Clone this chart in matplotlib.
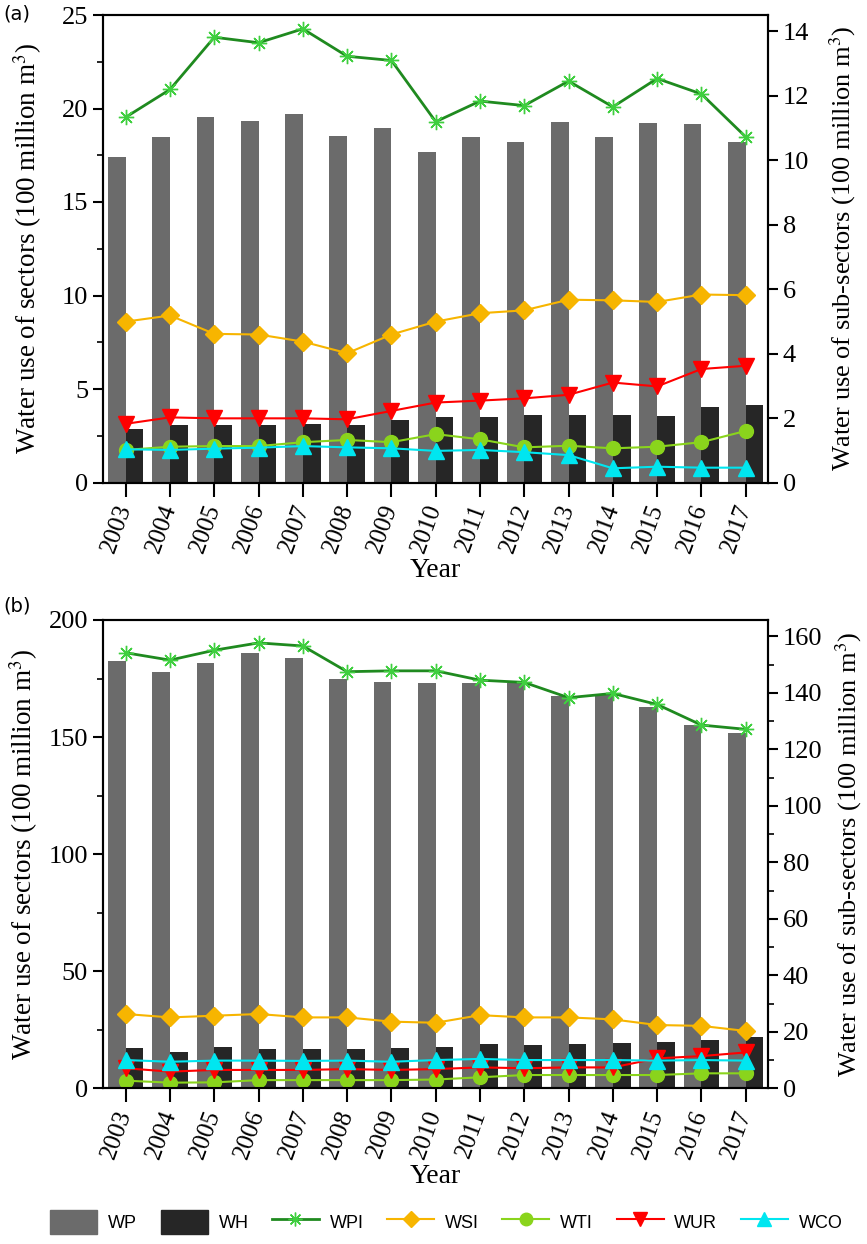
"""Sector and sub-sector water use, 2003-2017, panels (a) and (b)."""

import numpy as np
import matplotlib
matplotlib.use("Agg")
import matplotlib.pyplot as plt
from matplotlib.patches import Patch
from matplotlib.lines import Line2D
from matplotlib.ticker import MultipleLocator

years = [str(y) for y in range(2003, 2018)]

# panel (a) - sectors (left axis)
wp_a = [17.4, 18.5, 19.55, 19.35, 19.7, 18.55, 18.95, 17.7, 18.45, 18.2, 19.3, 18.45, 19.25, 19.15, 18.2]
wh_a = [2.87, 3.1, 3.1, 3.1, 3.15, 3.1, 3.33, 3.49, 3.49, 3.6, 3.6, 3.6, 3.54, 4.02, 4.17]
# panel (a) - sub-sectors (right axis)
wpi_a = [11.33, 12.19, 13.81, 13.64, 14.07, 13.22, 13.09, 11.19, 11.83, 11.69, 12.45, 11.65, 12.53, 12.05, 10.72]
wsi_a = [4.99, 5.18, 4.61, 4.59, 4.37, 4.01, 4.59, 4.99, 5.25, 5.34, 5.67, 5.65, 5.6, 5.83, 5.81]
wti_a = [1.01, 1.11, 1.13, 1.13, 1.25, 1.32, 1.25, 1.5, 1.34, 1.09, 1.14, 1.06, 1.11, 1.25, 1.6]
wur_a = [1.82, 2.02, 1.99, 1.99, 1.99, 1.96, 2.22, 2.48, 2.54, 2.61, 2.72, 3.1, 2.98, 3.52, 3.62]
wco_a = [1.03, 1.01, 1.05, 1.08, 1.13, 1.09, 1.06, 0.98, 1.01, 0.94, 0.85, 0.44, 0.49, 0.46, 0.46]

# panel (b)
wp_b = [182.3, 178.0, 181.8, 185.7, 183.7, 175.0, 173.7, 173.3, 173.3, 172.9, 167.4, 168.1, 162.7, 155.2, 151.6]
wh_b = [17.0, 15.6, 17.5, 16.8, 16.8, 16.8, 17.0, 17.6, 18.8, 18.5, 18.8, 19.2, 19.6, 20.6, 21.9]
wpi_b = [154.2, 151.6, 155.1, 157.7, 156.6, 147.5, 147.8, 147.8, 144.5, 143.7, 138.3, 139.8, 135.9, 128.6, 127.1]
wsi_b = [26.3, 25.1, 25.7, 26.3, 25.1, 25.1, 23.6, 23.2, 25.9, 25.1, 25.1, 24.4, 22.4, 22.1, 20.3]
wti_b = [2.7, 2.0, 2.1, 2.9, 2.9, 2.9, 2.9, 3.1, 3.9, 4.7, 4.7, 4.7, 4.7, 5.3, 5.3]
wur_b = [7.1, 5.9, 6.5, 6.5, 6.5, 6.8, 6.5, 6.8, 7.4, 7.1, 7.4, 7.4, 10.6, 11.4, 12.7]
wco_b = [10.0, 9.4, 9.8, 9.8, 9.7, 9.8, 9.4, 10.0, 10.4, 10.0, 10.0, 10.0, 9.8, 10.0, 9.8]

C_WP, C_WH = "#6b6b6b", "#262626"
STYLES = {
    "WPI": dict(color="#1f8a1f", marker=(8, 2, 0), ms=11, mec="#3fcf3f", mew=1.0, lw=2.0),
    "WSI": dict(color="#f7b500", marker="D", ms=9, mec="#f7b500", lw=1.5),
    "WTI": dict(color="#8ad41c", marker="o", ms=10, mec="#8ad41c", lw=1.5),
    "WUR": dict(color="#ff0000", marker="v", ms=11, mec="#ff0000", lw=1.5),
    "WCO": dict(color="#00e6f0", marker="^", ms=11, mec="#00e6f0", lw=1.5),
}

plt.rcParams["font.family"] = ["Liberation Serif", "DejaVu Serif"]
plt.rcParams["mathtext.fontset"] = "stix"

W, H = 867, 1244
fig = plt.figure(figsize=(W / 100, H / 100), dpi=100)


def draw_panel(rect, wp, wh, subs, ylim_l, ystep_l, ymin_l, ylim_r, ystep_r, ymin_r,
               lpad, rpad):
    x = np.arange(len(years))
    ax = fig.add_axes(rect)
    ax.bar(x - 0.2, wp, width=0.4, color=C_WP, zorder=2)
    ax.bar(x + 0.2, wh, width=0.4, color=C_WH, zorder=2)
    ax.set_xlim(-0.52, 14.51)
    ax.set_ylim(0, ylim_l)
    ax.yaxis.set_major_locator(MultipleLocator(ystep_l))
    ax.yaxis.set_minor_locator(MultipleLocator(ymin_l))
    ax.set_xticks(x)
    ax.set_xticklabels(years, rotation=70, ha="right", va="center",
                       rotation_mode="anchor", fontsize=18)
    ax.tick_params(axis="x", direction="out", length=10, width=1.5, pad=6)
    ax.tick_params(axis="y", which="major", direction="out", length=7, width=1.5,
                   labelsize=19)
    ax.tick_params(axis="y", which="minor", direction="out", length=4, width=1.2)
    ax.set_xlabel("Year", fontsize=20, labelpad=2)
    ax.set_ylabel("Water use of sectors (100 million m$^3$)", fontsize=19.5,
                  labelpad=lpad)

    ax2 = ax.twinx()
    for name, vals in subs.items():
        ax2.plot(x, vals, **STYLES[name])
    ax2.set_ylim(0, ylim_r)
    ax2.yaxis.set_major_locator(MultipleLocator(ystep_r))
    if ymin_r:
        ax2.yaxis.set_minor_locator(MultipleLocator(ymin_r))
    ax2.tick_params(axis="y", which="major", direction="out", length=7, width=1.5,
                    labelsize=19)
    ax2.tick_params(axis="y", which="minor", direction="out", length=4, width=1.2)
    ax2.set_ylabel("Water use of sub-sectors (100 million m$^3$)", fontsize=19,
                   labelpad=rpad)
    for a in (ax, ax2):
        for s in a.spines.values():
            s.set_linewidth(1.5)
    return ax, ax2


draw_panel([102.7 / W, 1 - 482.5 / H, 665.6 / W, 467.5 / H],
           wp_a, wh_a,
           {"WPI": wpi_a, "WSI": wsi_a, "WTI": wti_a, "WUR": wur_a, "WCO": wco_a},
           25, 5, 2.5, 14.5, 2, None, 13, 13)
draw_panel([102.7 / W, 1 - 1088.3 / H, 665.6 / W, 468.3 / H],
           wp_b, wh_b,
           {"WPI": wpi_b, "WSI": wsi_b, "WTI": wti_b, "WUR": wur_b, "WCO": wco_b},
           200, 50, 25, 165.8, 20, 10, 6, 8)

fig.text(3 / W, 1 - 14 / H, "(a)", fontsize=14, va="center", ha="left",
         family=["DejaVu Sans"])
fig.text(3 / W, 1 - 606 / H, "(b)", fontsize=14, va="center", ha="left",
         family=["DejaVu Sans"])

handles = [Patch(color=C_WP), Patch(color=C_WH)]
for name in ["WPI", "WSI", "WTI", "WUR", "WCO"]:
    st = dict(STYLES[name])
    st["ms"] = st["ms"] * 0.9
    handles.append(Line2D([], [], **st))
labels = ["WP", "WH", "WPI", "WSI", "WTI", "WUR", "WCO"]
fig.legend(handles, labels, loc="center", bbox_to_anchor=(0.515, 1 - 1222 / H),
           ncol=7, frameon=False, handlelength=2.6, handleheight=1.6,
           handletextpad=0.6, columnspacing=1.3,
           prop={"family": ["Liberation Sans", "DejaVu Sans"], "size": 13})

fig.savefig("out.png", dpi=100)
